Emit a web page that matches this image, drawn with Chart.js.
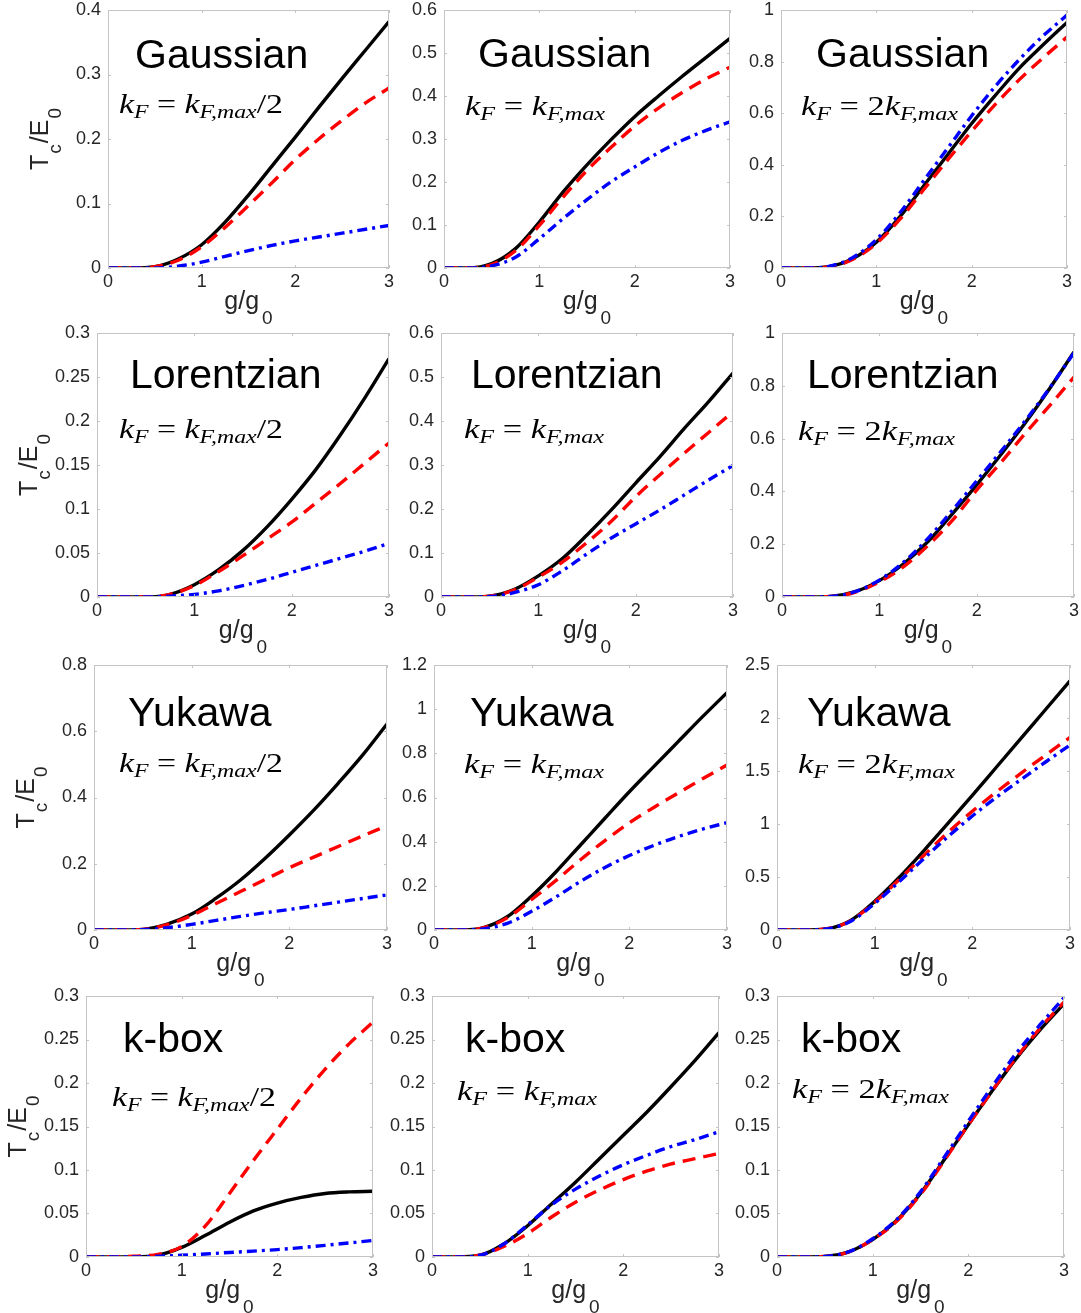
<!DOCTYPE html>
<html>
<head>
<meta charset="utf-8">
<script src="https://cdn.jsdelivr.net/npm/chart.js@4.4.1/dist/chart.umd.min.js"></script>
<style>
body{margin:0;background:#fff;width:1081px;height:1313px;position:relative;overflow:hidden}
canvas{position:absolute}
</style>
</head>
<body>
<script>
// g/g0 sample points (shared by every panel)
var xs = [0,0.25,0.5,0.75,1,1.25,1.5,1.75,2,2.25,2.5,2.75,3];
var xTicks = [0,1,2,3];

// Gaussian
var gHalfBlack = [0,0,0.002,0.014,0.036,0.071,0.113,0.158,0.203,0.249,0.294,0.338,0.382];
var gHalfRed   = [0,0,0.002,0.012,0.033,0.063,0.097,0.132,0.168,0.2,0.229,0.256,0.279];
var gHalfBlue  = [0,0,0,0.003,0.009,0.018,0.027,0.035,0.042,0.048,0.054,0.06,0.066];
var gOneBlack  = [0,0,0.01,0.045,0.107,0.177,0.24,0.298,0.352,0.4,0.446,0.49,0.534];
var gOneRed    = [0,0,0.008,0.04,0.099,0.165,0.227,0.28,0.33,0.372,0.408,0.44,0.467];
var gOneBlue   = [0,0,0.005,0.025,0.068,0.115,0.159,0.2,0.235,0.268,0.297,0.32,0.34];
var gTwoBlack  = [0,0,0.005,0.036,0.1,0.2,0.32,0.44,0.56,0.67,0.775,0.865,0.952];
var gTwoRed    = [0,0,0.004,0.033,0.095,0.19,0.305,0.42,0.53,0.635,0.73,0.815,0.895];
var gTwoBlue   = [0,0,0.006,0.04,0.11,0.215,0.34,0.465,0.59,0.705,0.808,0.9,0.98];

// Lorentzian
var lHalfBlack = [0,0,0,0.003,0.014,0.031,0.053,0.08,0.111,0.145,0.184,0.226,0.271];
var lHalfRed   = [0,0,0,0.003,0.013,0.029,0.047,0.066,0.085,0.107,0.129,0.152,0.175];
var lHalfBlue  = [0,0,0,0.001,0.003,0.007,0.013,0.02,0.028,0.036,0.044,0.052,0.061];
var lOneBlack  = [0,0,0.002,0.017,0.048,0.088,0.141,0.198,0.259,0.319,0.383,0.444,0.509];
var lOneRed    = [0,0,0.002,0.016,0.045,0.08,0.124,0.172,0.228,0.278,0.327,0.374,0.421];
var lOneBlue   = [0,0,0.001,0.01,0.028,0.06,0.098,0.134,0.166,0.198,0.232,0.266,0.299];
var lTwoBlack  = [0,0,0.002,0.02,0.062,0.126,0.21,0.315,0.425,0.54,0.66,0.79,0.928];
var lTwoRed    = [0,0,0.002,0.018,0.057,0.115,0.195,0.29,0.405,0.51,0.62,0.725,0.833];
var lTwoBlue   = [0,0,0.002,0.02,0.064,0.132,0.222,0.328,0.44,0.552,0.668,0.792,0.925];

// Yukawa
var yHalfBlack = [0,0,0.002,0.018,0.048,0.096,0.151,0.216,0.287,0.362,0.443,0.528,0.622];
var yHalfRed   = [0,0,0.002,0.016,0.044,0.08,0.116,0.152,0.188,0.22,0.252,0.284,0.315];
var yHalfBlue  = [0,0,0.001,0.007,0.017,0.029,0.041,0.052,0.062,0.073,0.084,0.095,0.106];
var yOneBlack  = [0,0,0.01,0.06,0.154,0.264,0.385,0.506,0.626,0.74,0.853,0.966,1.075];
var yOneRed    = [0,0,0.009,0.055,0.138,0.225,0.318,0.405,0.485,0.555,0.62,0.685,0.747];
var yOneBlue   = [0,0,0.005,0.03,0.085,0.15,0.22,0.283,0.337,0.383,0.423,0.457,0.486];
var yTwoBlack  = [0,0,0.01,0.088,0.27,0.495,0.745,1.005,1.27,1.54,1.81,2.08,2.35];
var yTwoRed    = [0,0,0.01,0.085,0.262,0.475,0.7,0.92,1.12,1.305,1.48,1.65,1.817];
var yTwoBlue   = [0,0,0.009,0.08,0.25,0.455,0.67,0.88,1.075,1.255,1.42,1.585,1.745];

// k-box
var kHalfBlack = [0,0,0,0.002,0.011,0.025,0.04,0.053,0.062,0.0685,0.073,0.0748,0.0755];
var kHalfRed   = [0,0,0.001,0.003,0.012,0.036,0.073,0.111,0.147,0.183,0.216,0.245,0.27];
var kHalfBlue  = [0,0,0,0.0008,0.002,0.0035,0.0052,0.0068,0.0085,0.0108,0.0134,0.0162,0.019];
var kOneBlack  = [0,0,0.002,0.015,0.036,0.061,0.086,0.113,0.14,0.167,0.196,0.226,0.258];
var kOneRed    = [0,0,0.002,0.012,0.027,0.046,0.063,0.077,0.089,0.099,0.107,0.113,0.119];
var kOneBlue   = [0,0,0.002,0.015,0.037,0.06,0.078,0.093,0.106,0.117,0.127,0.135,0.144];
var kTwoBlack  = [0,0,0.0005,0.006,0.02,0.042,0.073,0.112,0.152,0.191,0.228,0.261,0.291];
var kTwoRed    = [0,0,0.0005,0.006,0.02,0.041,0.072,0.111,0.152,0.191,0.229,0.263,0.293];
var kTwoBlue   = [0,0,0.0005,0.006,0.021,0.043,0.075,0.115,0.156,0.196,0.234,0.267,0.298];

// y tick labels
var ticksG1 = [0,0.1,0.2,0.3,0.4];
var ticksG2 = [0,0.1,0.2,0.3,0.4,0.5,0.6];
var ticksG3 = [0,0.2,0.4,0.6,0.8,1];
var ticksL1 = [0,0.05,0.1,0.15,0.2,0.25,0.3];
var ticksL2 = [0,0.1,0.2,0.3,0.4,0.5,0.6];
var ticksL3 = [0,0.2,0.4,0.6,0.8,1];
var ticksY1 = [0,0.2,0.4,0.6,0.8];
var ticksY2 = [0,0.2,0.4,0.6,0.8,1,1.2];
var ticksY3 = [0,0.5,1,1.5,2,2.5];
var ticksK  = [0,0.05,0.1,0.15,0.2,0.25,0.3];

var PL = 95, PT = 22, PR = 16, PB = 70;
var SANS = '"Liberation Sans", Arial, sans-serif';
var SERIF = '"Liberation Serif", "Times New Roman", serif';

// plot box [left, top, right, bottom], name offset, formula offset
var panels = [
  {box:[108,10,389,268],  name:'Gaussian',   kind:'half', s:[gHalfBlack,gHalfRed,gHalfBlue], yt:ticksG1, nm:[27,58], fm:[11,103], ylab:true},
  {box:[444,10,730,268],  name:'Gaussian',   kind:'one',  s:[gOneBlack,gOneRed,gOneBlue],    yt:ticksG2, nm:[34,57], fm:[21,105]},
  {box:[781,10,1067,268], name:'Gaussian',   kind:'two',  s:[gTwoBlack,gTwoRed,gTwoBlue],    yt:ticksG3, nm:[35,57], fm:[20,105]},
  {box:[97,333,389,597],  name:'Lorentzian', kind:'half', s:[lHalfBlack,lHalfRed,lHalfBlue], yt:ticksL1, nm:[33,55], fm:[22,105], ylab:true},
  {box:[441,333,733,597], name:'Lorentzian', kind:'one',  s:[lOneBlack,lOneRed,lOneBlue],    yt:ticksL2, nm:[30,55], fm:[23,105]},
  {box:[782,333,1074,597],name:'Lorentzian', kind:'two',  s:[lTwoBlack,lTwoRed,lTwoBlue],    yt:ticksL3, nm:[25,55], fm:[16,107]},
  {box:[94,665,387,930],  name:'Yukawa',     kind:'half', s:[yHalfBlack,yHalfRed,yHalfBlue], yt:ticksY1, nm:[34,61], fm:[25,107], ylab:true},
  {box:[434,665,727,930], name:'Yukawa',     kind:'one',  s:[yOneBlack,yOneRed,yOneBlue],    yt:ticksY2, nm:[36,61], fm:[30,108]},
  {box:[777,665,1070,930],name:'Yukawa',     kind:'two',  s:[yTwoBlack,yTwoRed,yTwoBlue],    yt:ticksY3, nm:[30,61], fm:[21,108]},
  {box:[86,996,373,1257], name:'k-box',      kind:'half', s:[kHalfBlack,kHalfRed,kHalfBlue], yt:ticksK,  nm:[37,56], fm:[26,110], ylab:true},
  {box:[432,996,719,1257],name:'k-box',      kind:'one',  s:[kOneBlack,kOneRed,kOneBlue],    yt:ticksK,  nm:[33,56], fm:[25,104]},
  {box:[777,996,1064,1257],name:'k-box',     kind:'two',  s:[kTwoBlack,kTwoRed,kTwoBlue],    yt:ticksK,  nm:[24,56], fm:[15,102]}
];

var formulaWidth = {half:164, one:140, two:157};

function fmt(v){ return String(+(+v).toFixed(3)); }
function pts(ys){ return xs.map(function(x,i){ return {x:x, y:ys[i]}; }); }

// draw runs of text, stretched to target width (w = null for natural)
function drawRuns(ctx, runs, x, y, w){
  var total = 0;
  runs.forEach(function(r){ ctx.font = r.f; r.w = ctx.measureText(r.t).width; total += r.w + (r.g||0); });
  ctx.save();
  ctx.translate(x, y);
  if (w) ctx.scale(w/total, 1);
  var cx = 0;
  runs.forEach(function(r){ ctx.font = r.f; ctx.fillText(r.t, cx, r.dy||0); cx += r.w + (r.g||0); });
  ctx.restore();
  return total;
}

function formulaRuns(kind){
  var IT = 'italic 27px ' + SERIF, SUB = 'italic 19px ' + SERIF, UP = '27px ' + SERIF;
  var r = [{t:'k',f:IT},{t:'F',f:SUB,dy:5},{t:' = ',f:UP}];
  if (kind === 'two') r.push({t:'2',f:UP});
  r.push({t:'k',f:IT},{t:'F,max',f:SUB,dy:5});
  if (kind === 'half') r.push({t:'/2',f:UP});
  return r;
}

var decor = {
  id:'decor',
  afterDraw: function(chart){
    var ctx = chart.ctx, a = chart.chartArea, p = chart.options.plugins.decor;
    var sx = chart.scales.x, sy = chart.scales.y;
    ctx.save();
    // box and inward ticks
    ctx.strokeStyle = '#c4c4c4';
    ctx.lineWidth = 1;
    ctx.strokeRect(a.left+0.5, a.top+0.5, a.right-a.left-1, a.bottom-a.top-1);
    ctx.beginPath();
    sx.ticks.forEach(function(t){
      var px = Math.round(sx.getPixelForValue(t.value))+0.5;
      ctx.moveTo(px, a.bottom); ctx.lineTo(px, a.bottom-3);
      ctx.moveTo(px, a.top); ctx.lineTo(px, a.top+3);
    });
    sy.ticks.forEach(function(t){
      var py = Math.round(sy.getPixelForValue(t.value))+0.5;
      ctx.moveTo(a.left, py); ctx.lineTo(a.left+3, py);
      ctx.moveTo(a.right, py); ctx.lineTo(a.right-3, py);
    });
    ctx.stroke();

    ctx.fillStyle = '#000';
    ctx.textBaseline = 'alphabetic';
    ctx.textAlign = 'left';
    ctx.font = '41px ' + SANS;
    ctx.fillText(p.name, a.left + p.nm[0], a.top + p.nm[1]);
    drawRuns(ctx, formulaRuns(p.kind), a.left + p.fm[0], a.top + p.fm[1], formulaWidth[p.kind]);

    // x label g/g_0
    ctx.fillStyle = '#262626';
    var xl = [{t:'g/g',f:'25px '+SANS,g:3},{t:'0',f:'19px '+SANS,dy:15}];
    var wx = 0;
    xl.forEach(function(r){ ctx.font = r.f; wx += ctx.measureText(r.t).width + (r.g||0); });
    drawRuns(ctx, xl, (a.left+a.right)/2 - wx/2, a.bottom + 41, null);

    // y label T_c/E_0
    if (p.ylab) {
      var yl = [{t:'T',f:'25px '+SANS,g:1},{t:'c',f:'19px '+SANS,dy:13,g:1},{t:'/E',f:'25px '+SANS,g:1},{t:'0',f:'19px '+SANS,dy:13}];
      var wy = 0;
      yl.forEach(function(r){ ctx.font = r.f; wy += ctx.measureText(r.t).width + (r.g||0); });
      ctx.save();
      ctx.translate(a.left - 60, (a.top+a.bottom)/2);
      ctx.rotate(-Math.PI/2);
      drawRuns(ctx, yl, -wy/2, 0, null);
      ctx.restore();
    }
    ctx.restore();
  }
};

panels.forEach(function(p){
  var b = p.box, pw = b[2]-b[0], ph = b[3]-b[1];
  var cv = document.createElement('canvas');
  cv.width = pw + PL + PR;
  cv.height = ph + PT + PB;
  cv.style.left = (b[0]-PL) + 'px';
  cv.style.top = (b[1]-PT) + 'px';
  cv.style.width = cv.width + 'px';
  cv.style.height = cv.height + 'px';
  document.body.appendChild(cv);
  var yt = p.yt;
  new Chart(cv, {
    type:'line',
    data:{
      datasets:[
        {label:'black', data:pts(p.s[0]), borderColor:'#000000', borderWidth:3.4, order:3},
        {label:'red',   data:pts(p.s[1]), borderColor:'#ff0000', borderWidth:3.4, borderDash:[13,8], order:2},
        {label:'blue',  data:pts(p.s[2]), borderColor:'#0000ff', borderWidth:3.4, borderDash:[10,5,3,5], order:1}
      ]
    },
    options:{
      responsive:false,
      animation:false,
      events:[],
      elements:{point:{radius:0}, line:{cubicInterpolationMode:'monotone', fill:false, borderCapStyle:'butt'}},
      layout:{padding:{left:0, top:PT, right:PR, bottom:0}},
      plugins:{
        legend:{display:false},
        tooltip:{enabled:false},
        decor:{name:p.name, kind:p.kind, nm:p.nm, fm:p.fm, ylab:!!p.ylab}
      },
      scales:{
        x:{
          type:'linear', min:0, max:3,
          afterFit:function(s){ s.height = PB; },
          afterBuildTicks:function(s){ s.ticks = xTicks.map(function(v){ return {value:v}; }); },
          grid:{display:false, drawTicks:false},
          border:{display:false},
          ticks:{autoSkip:false, maxRotation:0, padding:3, color:'#262626', font:{family:SANS, size:18}, callback:fmt}
        },
        y:{
          type:'linear', min:0, max:yt[yt.length-1],
          afterFit:function(s){ s.width = PL; },
          afterBuildTicks:function(s){ s.ticks = yt.map(function(v){ return {value:v}; }); },
          grid:{display:false, drawTicks:false},
          border:{display:false},
          ticks:{autoSkip:false, padding:7, color:'#262626', font:{family:SANS, size:18}, callback:fmt}
        }
      }
    },
    plugins:[decor]
  });
});
</script>
</body>
</html>
